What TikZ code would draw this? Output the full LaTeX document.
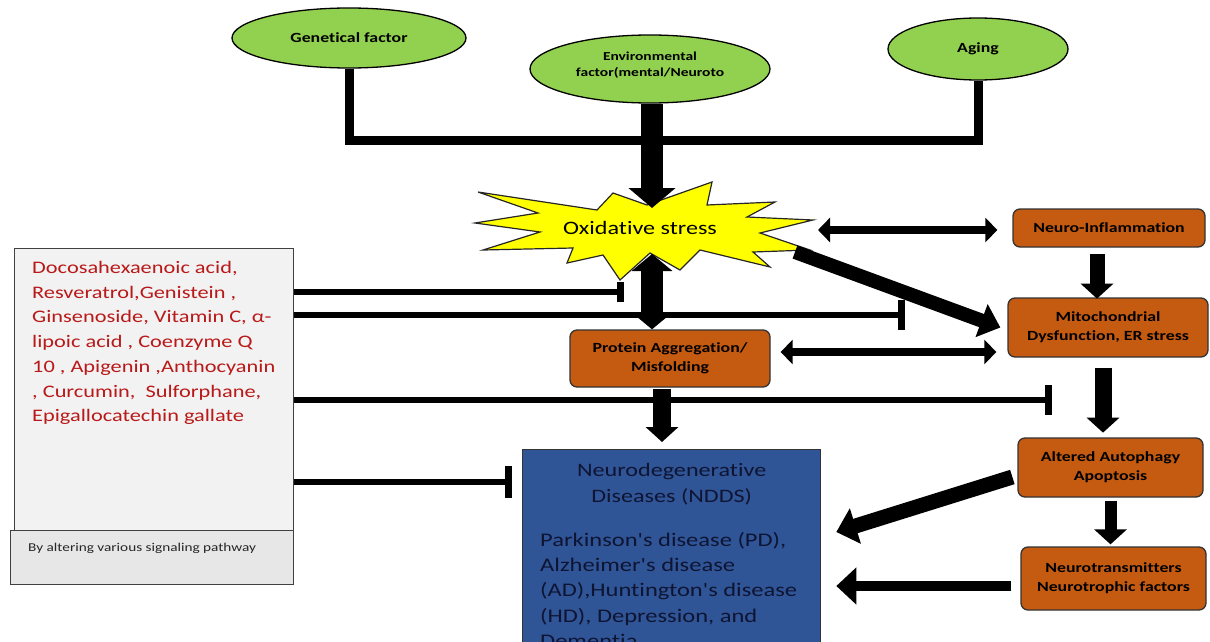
\documentclass[tikz,border=0pt]{standalone}
\usepackage{fontspec}
\setmainfont{Carlito}[FakeStretch=1.27,Ligatures={TeXOff,CommonOff}]
\usetikzlibrary{arrows.meta,shapes.geometric,calc}
\definecolor{leaf}{HTML}{92D050}
\definecolor{burst}{HTML}{FFFF00}
\definecolor{rust}{HTML}{C55A11}
\definecolor{navy}{HTML}{2F5597}
\definecolor{navytext}{RGB}{15,20,50}
\definecolor{redtext}{RGB}{185,25,25}
\definecolor{panel}{HTML}{F2F2F2}
\definecolor{panelb}{HTML}{E7E7E7}
\definecolor{edge}{HTML}{404040}
\tikzset{
  leafnode/.style={ellipse,draw=black,line width=1.3pt,fill=leaf,inner sep=0pt,
    font=\fontsize{14}{16}\selectfont\bfseries,align=center},
  rustbox/.style={rectangle,rounded corners=7pt,draw=black!80,line width=1.3pt,fill=rust,
    inner sep=0pt,align=center,font=\fontsize{14}{19}\selectfont\bfseries},
  topline/.style={line width=9pt,line join=miter},
  fatarrow/.style={line width=22pt,-{Triangle[length=20pt,width=46pt]}},
  fatdouble/.style={line width=22pt,{Triangle[length=17pt,width=40pt]}-{Triangle[length=17pt,width=40pt]}},
  thindouble/.style={line width=8pt,{Triangle[length=12pt,width=24pt]}-{Triangle[length=12pt,width=24pt]}},
  diagarrow/.style={line width=14pt,-{Triangle[length=20pt,width=34pt]}},
  downarrow/.style={line width=#1,-{Triangle[length=15pt,width=32pt]}},
  leftarrow/.style={line width=#1,-{Triangle[length=20pt,width=36pt]}},
  inhib/.style={line width=6pt,-{Bar[width=#1,line width=7pt]}},
}
\begin{document}
\begin{tikzpicture}[x=1pt,y=-1pt]
\useasboundingbox (0,0) rectangle (1210,642);
\clip (0,0) rectangle (1210,642);

% ---- top ellipses
\node[leafnode,minimum width=234pt,minimum height=60pt] (gen) at (349,38) {Genetical factor};
\node[leafnode,minimum width=240pt,minimum height=68pt] (env) at (650,69) {};
\node[font=\fontsize{12.2}{16}\selectfont\bfseries,align=center] (envtext) at ($(env.center)+(0,-4)$) {Environmental\\factor(mental/Neuroto};
\node[leafnode,minimum width=180pt,minimum height=62pt] (age) at (978,49) {Aging};

% ---- joining line
\coordinate (jr) at (978,140);
\draw[topline] (gen.south) |- (jr) -- (age.south);

% ---- oxidative stress burst
\draw[fill=burst,draw=black!85,line width=1.2pt,line join=miter]
 (475,223) -- (538,213) -- (478,192) -- (597,210) -- (613,193) -- (647,205) --
 (712,182) -- (707,205) -- (775,202) -- (747,217) -- (813,220) -- (760,233) --
 (810,250) -- (753,252) -- (770,267) -- (700,250) -- (680,270) -- (650,253) --
 (620,280) -- (603,255) -- (567,263) -- (573,248) -- (483,250) -- (540,232) -- cycle;
\node[font=\fontsize{19}{22}\selectfont] (ox) at (640,228) {Oxidative stress};

% ---- orange boxes
\node[rustbox,minimum width=192pt,minimum height=38pt] (ninf) at (1109,228) {Neuro-Inflammation};
\node[rustbox,minimum width=200pt,minimum height=59pt] (mito) at (1108,327.5) {Mitochondrial\\Dysfunction, ER stress};
\node[rustbox,minimum width=200pt,minimum height=57pt] (prot) at (670,358.5) {Protein Aggregation/\\Misfolding};
\node[rustbox,minimum width=185pt,minimum height=59pt] (alt) at (1110.5,467.5) {Altered Autophagy\\Apoptosis};
\node[rustbox,minimum width=185pt,minimum height=63pt] (ntr) at (1113.5,578.5) {Neurotransmitters\\Neurotrophic factors};

% ---- NDDS box
\node[rectangle,draw=black!80,line width=1.3pt,fill=navy,minimum width=298pt,minimum height=260pt,
  anchor=north west,inner sep=0pt] (ndds) at (522,449) {};
\node[anchor=north,align=center,text=navytext,font=\fontsize{19}{26}\selectfont,inner sep=0pt] (nddshead)
  at ($(ndds.north)+(0,14)$) {Neurodegenerative\\Diseases (NDDS)};
\node[anchor=north west,align=left,text=navytext,font=\fontsize{19.3}{25.3}\selectfont,inner sep=0pt] (nddsbody)
  at ($(ndds.north west)+(18,83)$) {Parkinson's disease (PD),\\Alzheimer's disease\\(AD),Huntington's disease\\(HD), Depression, and\\Dementia};

% ---- left panel
\node[rectangle,draw=edge,line width=1.3pt,fill=panel,minimum width=279pt,minimum height=282pt,
  anchor=north west,inner sep=0pt] (left) at (14,248) {};
\node[rectangle,draw=edge,line width=1.3pt,fill=panelb,minimum width=283pt,minimum height=54pt,
  anchor=north west,inner sep=0pt] (leftb) at (10,530) {};
\node[anchor=north west,align=left,text=redtext,font=\fontsize{17.6}{24.75}\selectfont,inner sep=0pt] (agents)
  at (32,261) {Docosahexaenoic acid,\\Resveratrol,Genistein ,\\Ginsenoside, Vitamin C, α-\\lipoic acid , Coenzyme Q\\10 , Apigenin ,Anthocyanin\\, Curcumin,~ Sulforphane,\\Epigallocatechin gallate};
\node[anchor=west,font=\fontsize{12}{14}\selectfont,text=black!85,inner sep=0pt] (signal)
  at ($(leftb.north west)+(18,18)$) {By altering various signaling pathway};

% ---- arrows
\coordinate (oxN) at (652,208);
\draw[fatarrow] (env.south -| oxN) -- (oxN);
\coordinate (oxS) at (652,254);
\draw[fatdouble] (oxS) -- (oxS |- prot.north);
\coordinate (oxE) at (818,230);
\draw[thindouble] (oxE) -- ($(oxE -| ninf.west)+(-15,0)$);
\coordinate (oxSE) at (795,252);
\draw[diagarrow] (oxSE) -- ($(mito.west)+(-7,0)$);
\draw[thindouble] ($(prot.east)+(10,-6.5)$) -- ($(prot.east -| mito.west)+(-11,-6.5)$);
\draw[downarrow=15pt] ($(ninf.south)+(-12,6)$) -- ($(ninf.south -| mito.north)+(-11,51)$);
\draw[downarrow=17pt] ($(mito.south)+(-5,10)$) -- ($(mito.south)+(-5,75)$);
\draw[downarrow=12pt] ($(alt.south)+(0,3)$) -- ($(alt.south |- ntr.north)+(0,-2)$);
\draw[leftarrow=15pt] ($(alt.west)+(-5,9.5)$) -- ($(ndds.north east)+(15,83)$);
\draw[leftarrow=10pt] ($(ntr.west)+(-9,7.5)$) -- ($(ntr.west -| ndds.east)+(15,7.5)$);
\draw[downarrow=18pt] ($(prot.south)+(-8,1)$) -- ($(prot.south |- ndds.north)+(-8,-7)$);

% ---- inhibition lines
\coordinate (b1) at (624,292);
\coordinate (b2) at (905,315);
\coordinate (b3) at (1052,400);
\coordinate (b4) at (512,482);
\draw[inhib=20pt] (left.east |- b1) -- (b1);
\draw[inhib=30pt] (left.east |- b2) -- (b2);
\draw[inhib=30pt] (left.east |- b3) -- (b3);
\draw[inhib=32pt] (left.east |- b4) -- (b4);
\end{tikzpicture}
\end{document}
